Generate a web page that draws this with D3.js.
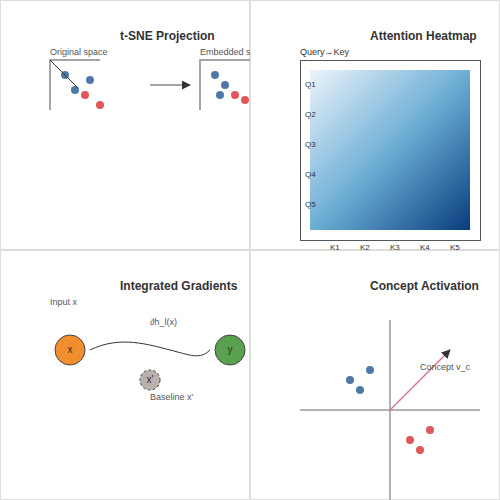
<!DOCTYPE html><html><head><meta charset="utf-8"><script src="https://cdn.jsdelivr.net/npm/d3@7"></script>
<style>body{margin:0}text{font-family:"Liberation Sans",Arial,sans-serif}</style></head><body>
<svg id="c" width="500" height="500"></svg>
<script>
const titles=["t-SNE Projection","Attention Heatmap","Integrated Gradients","Concept Activation"];
const origPts=[[15,15,0],[25,30,0],[40,20,0],[35,35,1],[50,45,1]];
const embPts=[[15,15,0],[25,25,0],[20,35,0],[35,35,1],[45,40,1]];
const queryLabels=["Q1","Q2","Q3","Q4","Q5"];
const keyLabels=["K1","K2","K3","K4","K5"];
const conceptPts=[[-40,30,0],[-30,20,0],[-20,40,0],[20,-30,1],[30,-40,1],[40,-20,1]];
const conceptVec=[60,60];
const colors=["#4e79a7","#e15759"];
const svg=d3.select("#c");
const defs=svg.append("defs");
defs.append("marker").attr("id","ah").attr("viewBox","0 0 10 10").attr("refX",9).attr("refY",5).attr("markerWidth",6).attr("markerHeight",6).attr("orient","auto").append("path").attr("d","M0,0L10,5L0,10z").attr("fill","#333");
const lg=defs.append("linearGradient").attr("id","hg").attr("x1","0").attr("y1","0").attr("x2","1").attr("y2","1");
[0,0.5,1].forEach(t=>lg.append("stop").attr("offset",t).attr("stop-color",d3.interpolateBlues(0.05+t*0.9)));
const panels=[[0,0],[250,0],[0,250],[250,250]];
panels.forEach((p,i)=>{
 defs.append("clipPath").attr("id","cp"+i).append("rect").attr("x",p[0]).attr("y",p[1]).attr("width",250).attr("height",250);
 svg.append("rect").attr("x",p[0]+0.5).attr("y",p[1]+0.5).attr("width",249).attr("height",249).attr("fill","#fff").attr("stroke","#ddd");
});
const g=panels.map((p,i)=>svg.append("g").attr("clip-path",`url(#cp${i})`).append("g").attr("transform",`translate(${p[0]},${p[1]})`));
g.forEach((gg,i)=>gg.append("text").attr("x",120).attr("y",40).attr("font-size",12).attr("font-weight","bold").attr("fill","#333").text(titles[i]));
const sx=d3.scaleLinear().domain([0,50]).range([0,50]);
function scatter(gg,ox,oy,pts,label){
 gg.append("text").attr("x",ox).attr("y",oy-5).attr("font-size",9).attr("fill","#555").text(label);
 gg.append("path").attr("d",`M${ox+50},${oy}H${ox}V${oy+50}`).attr("fill","none").attr("stroke","#888").attr("stroke-width",1.5);
 gg.selectAll(null).data(pts).enter().append("circle").attr("cx",d=>ox+sx(d[0])).attr("cy",d=>oy+sx(d[1])).attr("r",4).attr("fill",d=>colors[d[2]]);
}
scatter(g[0],50,60,origPts,"Original space");
g[0].append("line").attr("x1",50).attr("y1",60).attr("x2",78).attr("y2",88).attr("stroke","#333");
g[0].append("line").attr("x1",150).attr("y1",85).attr("x2",190).attr("y2",85).attr("stroke","#888").attr("stroke-width",1.5).attr("marker-end","url(#ah)");
scatter(g[0],200,60,embPts,"Embedded space");
// heatmap
const h=g[1];
h.append("text").attr("x",50).attr("y",55).attr("font-size",9).attr("fill","#333").text("Query→Key");
h.append("rect").attr("x",50.5).attr("y",60.5).attr("width",180).attr("height",180).attr("fill","none").attr("stroke","#555");
h.append("rect").attr("x",60).attr("y",70).attr("width",160).attr("height",160).attr("fill","url(#hg)");
const qy=d3.scalePoint().domain(queryLabels).range([87,207]);
const kx=d3.scalePoint().domain(keyLabels).range([80,200]);
h.selectAll(null).data(queryLabels).enter().append("text").attr("x",55).attr("y",d=>qy(d)).attr("font-size",8).attr("fill","#333").text(d=>d);
h.selectAll(null).data(keyLabels).enter().append("text").attr("x",d=>kx(d)).attr("y",250).attr("font-size",8).attr("fill","#333").text(d=>d);
// IG
const ig=g[2];
ig.append("text").attr("x",50).attr("y",55).attr("font-size",9).attr("fill","#555").text("Input x");
ig.append("path").attr("d","M90,100C120,85 150,95 170,100S200,110 210,100").attr("fill","none").attr("stroke","#333");
ig.append("text").attr("x",150).attr("y",75).attr("font-size",9).attr("fill","#555").text("∂h_l(x)");
[[70,100,15,"#f28e2b","x",null],[230,100,15,"#59a14f","y",null],[150,130,10,"#bab0ac","x'","3,2"]].forEach(n=>{
 ig.append("circle").attr("cx",n[0]).attr("cy",n[1]).attr("r",n[2]).attr("fill",n[3]).attr("stroke","#444").attr("stroke-dasharray",n[5]);
 ig.append("text").attr("x",n[0]).attr("y",n[1]+3).attr("text-anchor","middle").attr("font-size",10).attr("fill","#333").text(n[4]);
});
ig.append("text").attr("x",150).attr("y",150).attr("font-size",9).attr("fill","#555").text("Baseline x'");
// concept
const c=g[3];
const cx=d3.scaleLinear().domain([-90,90]).range([50,230]);
const cy=d3.scaleLinear().domain([-90,90]).range([250,70]);
c.append("line").attr("x1",cx(-90)).attr("x2",cx(90)).attr("y1",cy(0)).attr("y2",cy(0)).attr("stroke","#999").attr("stroke-width",1.5);
c.append("line").attr("x1",cx(0)).attr("x2",cx(0)).attr("y1",cy(90)).attr("y2",cy(-90)).attr("stroke","#999").attr("stroke-width",1.5);
c.selectAll(null).data(conceptPts).enter().append("circle").attr("cx",d=>cx(d[0])).attr("cy",d=>cy(d[1])).attr("r",4).attr("fill",d=>colors[d[2]]);
c.append("line").attr("x1",cx(0)).attr("y1",cy(0)).attr("x2",cx(conceptVec[0])).attr("y2",cy(conceptVec[1])).attr("stroke","#d87093").attr("stroke-width",1.5).attr("marker-end","url(#ah)").attr("marker-width",10);
c.select("line:last-of-type");
c.append("text").attr("x",170).attr("y",120).attr("font-size",9).attr("fill","#555").text("Concept v_c");
</script></body></html>
